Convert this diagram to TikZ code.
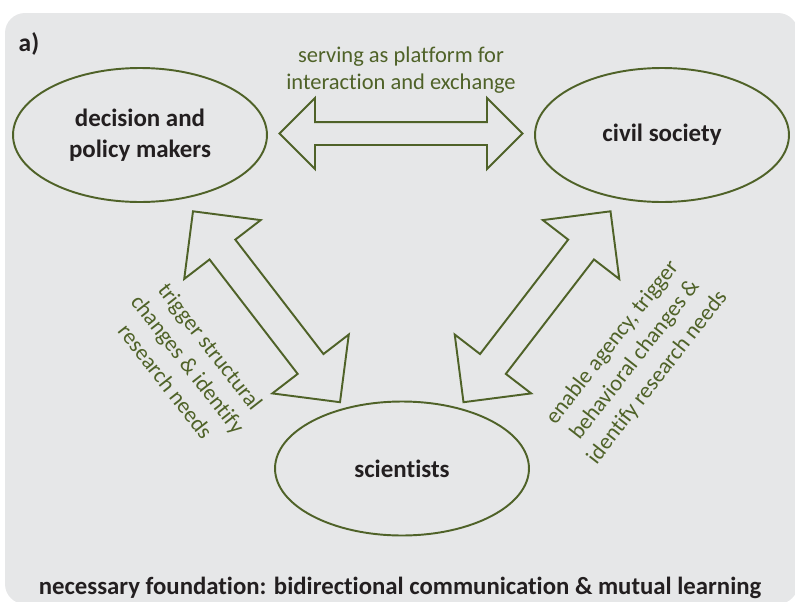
\documentclass[tikz,border=0pt]{standalone}
\usepackage{fontspec}
\setmainfont{Carlito}[Ligatures=NoCommon]
\usepackage{tikz}
\usetikzlibrary{shapes.geometric, shapes.arrows, positioning, calc}

\definecolor{olive}{HTML}{4F6228}
\definecolor{panelgray}{HTML}{E6E7E8}
\definecolor{inkdark}{HTML}{231F20}

\begin{document}
\begin{tikzpicture}[x=0.02cm, y=-0.02cm,
		actor/.style={ellipse, draw=olive, line width=1.1pt, inner sep=0pt, minimum width=50.8mm, minimum height=26.8mm, align=center, text=inkdark, font=\fontsize{14.2}{17.5}\selectfont\bfseries},
		blockarrow/.style={double arrow, draw=olive, line width=1.1pt, inner xsep=0pt},
		note/.style={align=center, text=olive, font=\fontsize{12.8}{15.5}\selectfont},
		slantnote/.style={note, font=\fontsize{12.8}{16.2}\selectfont}]
		\useasboundingbox (0,0) rectangle (795,602);
		% --- panel ---
		\fill[panelgray, rounded corners=4mm] (5,13) rectangle (798,604);
		\node[font=\fontsize{14.5}{16}\selectfont\bfseries, text=inkdark] (tag) at (29,44) {a)};
		
		% --- the three groups ---
		\node[actor] (dm) at (140,135) {decision and\\policy makers};
		\node[actor] (cs) at (662,135) {civil society};
		\node[actor] (sc) at (402,468.5) {scientists};
		
		% --- block arrows between the groups ---
		\node[blockarrow, inner ysep=2.1mm, double arrow head extend=4.8mm, minimum height=48.6mm] (dm_cs) at ($(dm)!0.5!(cs)+(0,-1.5)$) {};
		\node[blockarrow, inner ysep=3.06mm, double arrow head extend=6.4mm, minimum height=48.2mm, rotate=-52.4] (dm_sc) at ($(dm)!0.5!(sc)+(-4.5,5)$) {};
		\node[blockarrow, inner ysep=3.06mm, double arrow head extend=6.4mm, minimum height=48.2mm, rotate=52.4] (cs_sc) at ($(cs)!0.5!(sc)+(5,5)$) {};
		
		% --- labels ---
		\node[note] (platform) at (401,70) {serving as platform for\\interaction and exchange};
		\node[slantnote, rotate=-52] (structural) at (188,364) {trigger structural\\changes \& identify\\research needs};
		\node[slantnote, rotate=52] (agency) at (635,360) {enable agency, trigger\\behavioral changes \&\\identify research needs};
		\node[font=\fontsize{14.1}{16}\selectfont\bfseries, text=inkdark] (foundation) at (400,588) {necessary foundation: bidirectional communication \& mutual learning};
	\end{tikzpicture}
\end{document}
